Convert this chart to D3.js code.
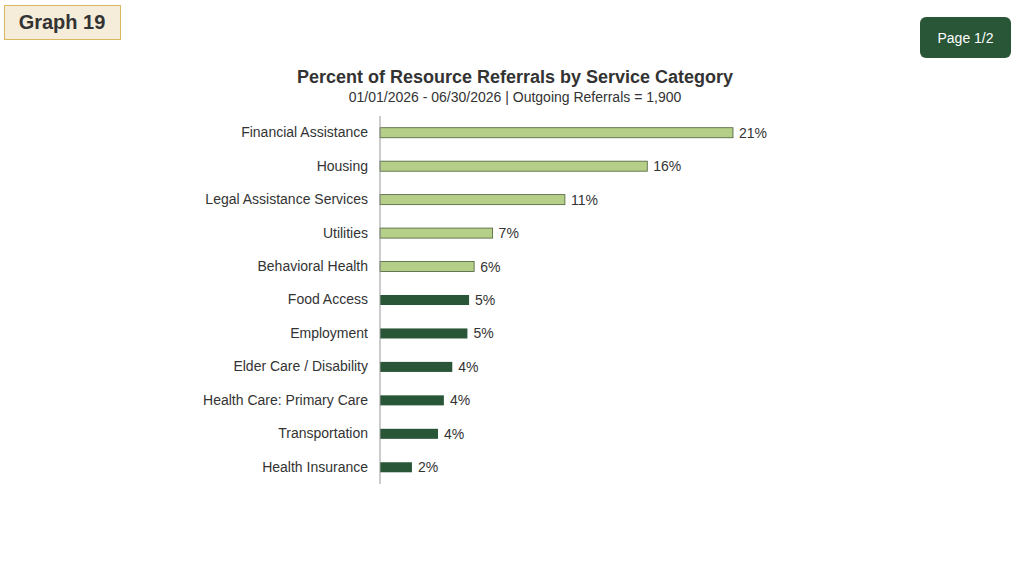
<!DOCTYPE html>
<html><head><meta charset="utf-8">
<script src="https://cdn.jsdelivr.net/npm/d3@7"></script>
<style>body{margin:0;background:#fff;font-family:"Liberation Sans",Arial,sans-serif;}</style>
</head><body>
<svg id="chart" width="1024" height="575"></svg>
<script>
"use strict";

// categories and values
var categories = ["Financial Assistance","Housing","Legal Assistance Services","Utilities","Behavioral Health",
    "Food Access","Employment","Elder Care / Disability","Health Care: Primary Care","Transportation","Health Insurance"];
var values = [21.0, 15.9, 11.0, 6.7, 5.6, 5.3, 5.2, 4.3, 3.8, 3.45, 1.9];
var labels = ["21%","16%","11%","7%","6%","5%","5%","4%","4%","4%","2%"];
var highlighted = 5; // first five bars drawn light

var svg = d3.select("#chart");

// header badges
svg.append("rect").attr("x",4.5).attr("y",5.5).attr("width",116).attr("height",34)
    .attr("fill","#f5ecd9").attr("stroke","#d9b860");
svg.append("text").attr("x",62).attr("y",29).attr("text-anchor","middle")
    .attr("font-size",20).attr("font-weight","bold").attr("fill","#333").text("Graph 19");
svg.append("rect").attr("x",920).attr("y",17).attr("width",91).attr("height",41).attr("rx",6)
    .attr("fill","#2a5638");
svg.append("text").attr("x",965.5).attr("y",43).attr("text-anchor","middle")
    .attr("font-size",14).attr("fill","#fff").text("Page 1/2");

// titles
svg.append("text").attr("x",515).attr("y",83).attr("text-anchor","middle")
    .attr("font-size",18).attr("font-weight","bold").attr("fill","#333")
    .text("Percent of Resource Referrals by Service Category");
svg.append("text").attr("x",515).attr("y",102).attr("text-anchor","middle")
    .attr("font-size",14).attr("fill","#333")
    .text("01/01/2026 - 06/30/2026 | Outgoing Referrals = 1,900");

var x = d3.scaleLinear().domain([0, 21]).range([380, 733]);
var y = d3.scaleBand().domain(categories).range([116, 484]).paddingInner(0.7).paddingOuter(0.35);

var g = svg.append("g");
g.selectAll("rect.bar").data(categories).enter().append("rect")
    .attr("class","bar")
    .attr("x", x(0))
    .attr("y", function(d){ return y(d); })
    .attr("width", function(d,i){ return x(values[i]) - x(0); })
    .attr("height", y.bandwidth())
    .attr("fill", function(d,i){ return i < highlighted ? "#b5cf88" : "#2a5638"; })
    .attr("stroke", function(d,i){ return i < highlighted ? "#4a5e3a" : "none"; })
    .attr("stroke-width", 0.8);

g.selectAll("text.val").data(categories).enter().append("text")
    .attr("x", function(d,i){ return x(values[i]) + 6; })
    .attr("y", function(d){ return y(d) + y.bandwidth()/2 + 5; })
    .attr("font-size",14).attr("fill","#333")
    .text(function(d,i){ return labels[i]; });

var axis = svg.append("g").attr("transform","translate(" + x(0) + ",0)")
    .call(d3.axisLeft(y).tickSize(0).tickPadding(12));
axis.select(".domain").attr("stroke","#999").attr("d","M0,116V484");
axis.selectAll("text").attr("font-size",14).attr("fill","#333")
    .attr("font-family","Liberation Sans, Arial, sans-serif");
</script>
</body></html>
